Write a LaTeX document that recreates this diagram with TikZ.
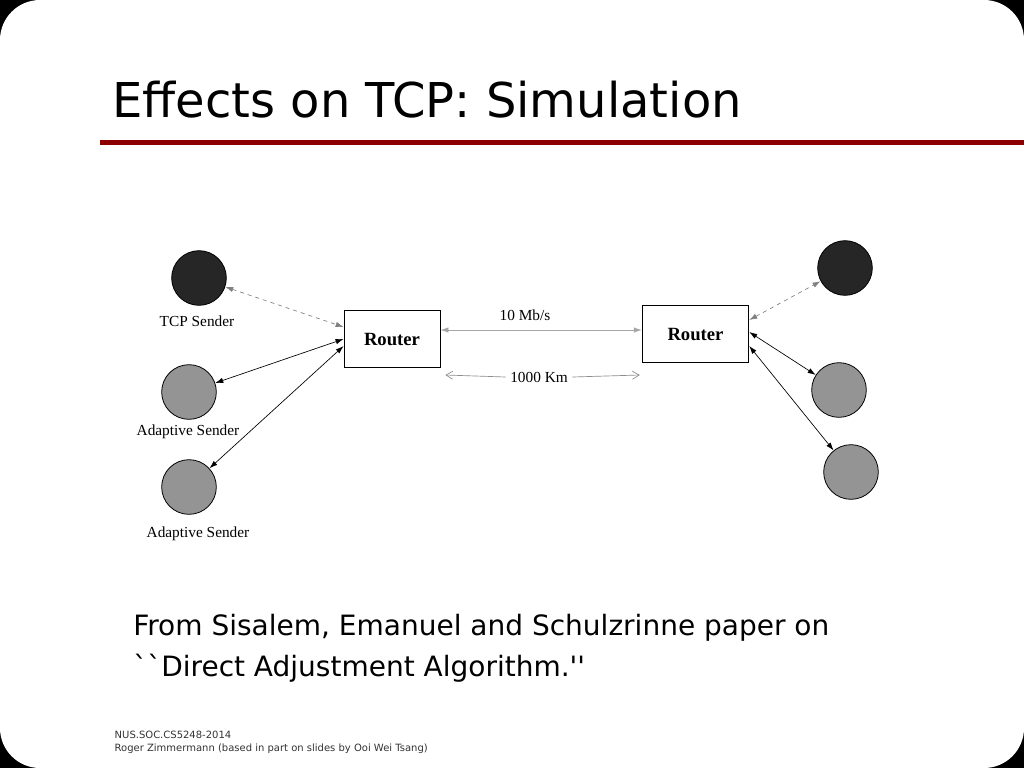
\documentclass[tikz,border=0pt]{standalone}
\usepackage{fontspec}
\setmainfont{Liberation Serif}
\newfontfamily\slidefont{DejaVu Sans}
\usetikzlibrary{arrows.meta,calc}
\begin{document}
\begin{tikzpicture}[x=0.75pt,y=-0.75pt,
  dev/.style={circle,draw=black,line width=0.6pt,minimum size=41pt,inner sep=0},
  router/.style={draw=black,line width=0.6pt,font=\bfseries\fontsize{14}{16}\selectfont,inner sep=0},
  lbl/.style={font=\fontsize{11.5}{13}\selectfont},
  link/.style={line width=0.5pt,{Latex[length=6pt,width=4pt]}-{Latex[length=6pt,width=4pt]}},
  dlink/.style={link,dashed,draw=gray},
  tip/.style={font=\slidefont\fontsize{7.5}{9}\selectfont,anchor=west,text=black!80}]
\useasboundingbox (0,0) rectangle (1024,768);
\fill[black] (0,0) rectangle (1024,768);
\fill[white,rounded corners=30pt] (0,0) rectangle (1024,768);
\node[font=\slidefont\fontsize{36}{40}\selectfont,anchor=west,inner sep=0] (title) at (112,100) {Effects on TCP: Simulation};
\fill[red!55!black] (100,139.5) rectangle (1024,145);
% nodes
\node[dev,fill=black!85] (t1) at (199,278) {};
\node[dev,fill=black!42] (a1) at (189,392) {};
\node[dev,fill=black!42] (a2) at (189,487) {};
\node[dev,fill=black!85] (t2) at (845,268) {};
\node[dev,fill=black!42] (b1) at (839,390) {};
\node[dev,fill=black!42] (b2) at (851,472) {};
\node[lbl] (lt) at (197,321) {TCP Sender};
\node[lbl] (la1) at (188,432) {Adaptive Sender};
\node[lbl] (la2) at (198,534) {Adaptive Sender};
\node[router,minimum width=72pt,minimum height=43pt] (r1) at (392,339) {Router};
\node[router,minimum width=80pt,minimum height=43pt] (r2) at (695.5,334) {Router};
\node[lbl] (bw) at (525,315) {10 Mb/s};
\node[lbl] (dist) at (539,377) {1000 Km};
% links
\draw[dlink] (t1) -- (r1.west |- 0,327);
\draw[link] (r1.west |- 0,339) -- (a1);
\draw[link] (r1.west |- 0,346) -- (a2);
\draw[link,draw=black!35] (r1.east |- 0,330) -- (r2.west |- 0,330);
\draw[line width=0.5pt,draw=black!45,{Straight Barb[length=5pt,width=6pt]}-] ($(r1.east |- 0,375)+(5,0)$) -- (dist.west);
\draw[line width=0.5pt,draw=black!45,-{Straight Barb[length=5pt,width=6pt]}] (dist.east) -- ($(r2.west |- 0,375)+(-2,0)$);
\draw[dlink] (r2.east |- 0,320) -- (t2);
\draw[link] (r2.east |- 0,332) -- (b1);
\draw[link] (r2.east |- 0,346) -- (b2);
% text
\node[font=\slidefont\fontsize{21}{31}\selectfont,anchor=north west,align=left,inner sep=0] (cap) at (133,614) {From Sisalem, Emanuel and Schulzrinne paper on\\``Direct Adjustment Algorithm.''};
\node[tip] (f1) at (110,735) {NUS.SOC.CS5248-2014};
\node[tip] (f2) at (110,749) {Roger Zimmermann (based in part on slides by Ooi Wei Tsang)};
\end{tikzpicture}
\end{document}
